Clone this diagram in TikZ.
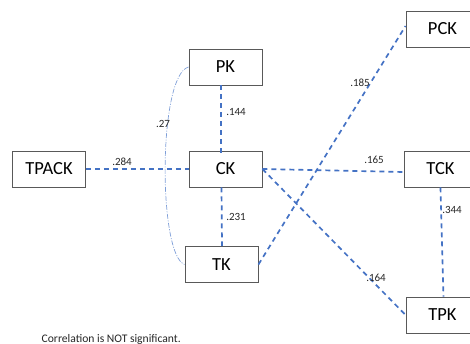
\documentclass[tikz,border=0pt]{standalone}
\usepackage{fontspec}
\setmainfont{Carlito}
\definecolor{linkblue}{HTML}{4472C4}
\definecolor{framegray}{HTML}{595959}
\definecolor{curveblue}{HTML}{7F9FD8}
\begin{document}
\begin{tikzpicture}[x=1pt,y=-1pt,
  box/.style={draw=framegray,line width=0.9pt,minimum width=73pt,minimum height=36pt,
    inner sep=0pt,font=\fontsize{18.5}{20}\selectfont,text=black},
  link/.style={draw=linkblue,line width=1.7pt,dash pattern=on 5pt off 4pt},
  corr/.style={font=\fontsize{11}{12}\selectfont,text=black!85,inner sep=0pt}]
\clip (0,0) rectangle (470,344);
\useasboundingbox (0,0) rectangle (470,344);
% construct boxes
\node[box] (TPACK) at (49,169) {TPACK};
\node[box] (PK) at (225.5,67) {PK};
\node[box] (CK) at (225.5,169) {CK};
\node[box] (TK) at (221.5,264.5) {TK};
\node[box] (PCK) at (442.5,29) {PCK};
\node[box] (TCK) at (440.5,169) {TCK};
\node[box] (TPK) at (442.5,315) {TPK};
% correlations
\draw[link] (TPACK.east) -- (CK.west);
\draw[link] ([xshift=-4.5pt]PK.south) -- ([xshift=-4.5pt,yshift=-4pt]CK.north);
\draw[link] ([xshift=-4pt]CK.south) -- ([xshift=0.5pt]TK.north);
\draw[link] (CK.east) -- ([yshift=-3pt]TCK.west);
\draw[link] (CK.east) -- (TPK.west);
\draw[link] (TK.east) -- ([yshift=3pt]PCK.west);
\draw[link] (TCK.south) -- ([xshift=1pt]TPK.north);
\draw[curveblue,line width=0.7pt,dash pattern=on 5pt off 1.5pt on 1pt off 1.5pt]
  (PK.west) .. controls (158,75) and (158,255) .. (TK.west);
% coefficient labels
\node[corr] (l284) at (122,162) {.284};
\node[corr] (l144) at (236,112) {.144};
\node[corr] (l231) at (236,217) {.231};
\node[corr] (l27) at (163,124) {.27};
\node[corr] (l185) at (360,83) {.185};
\node[corr] (l165) at (374,160) {.165};
\node[corr] (l164) at (376,278) {.164};
\node[corr] (l344) at (452,210) {.344};
\node[anchor=base west,font=\fontsize{11.6}{13}\selectfont,text=black!85,inner sep=0pt]
  (note) at (41.5,342) {Correlation is NOT significant.};
\end{tikzpicture}
\end{document}
